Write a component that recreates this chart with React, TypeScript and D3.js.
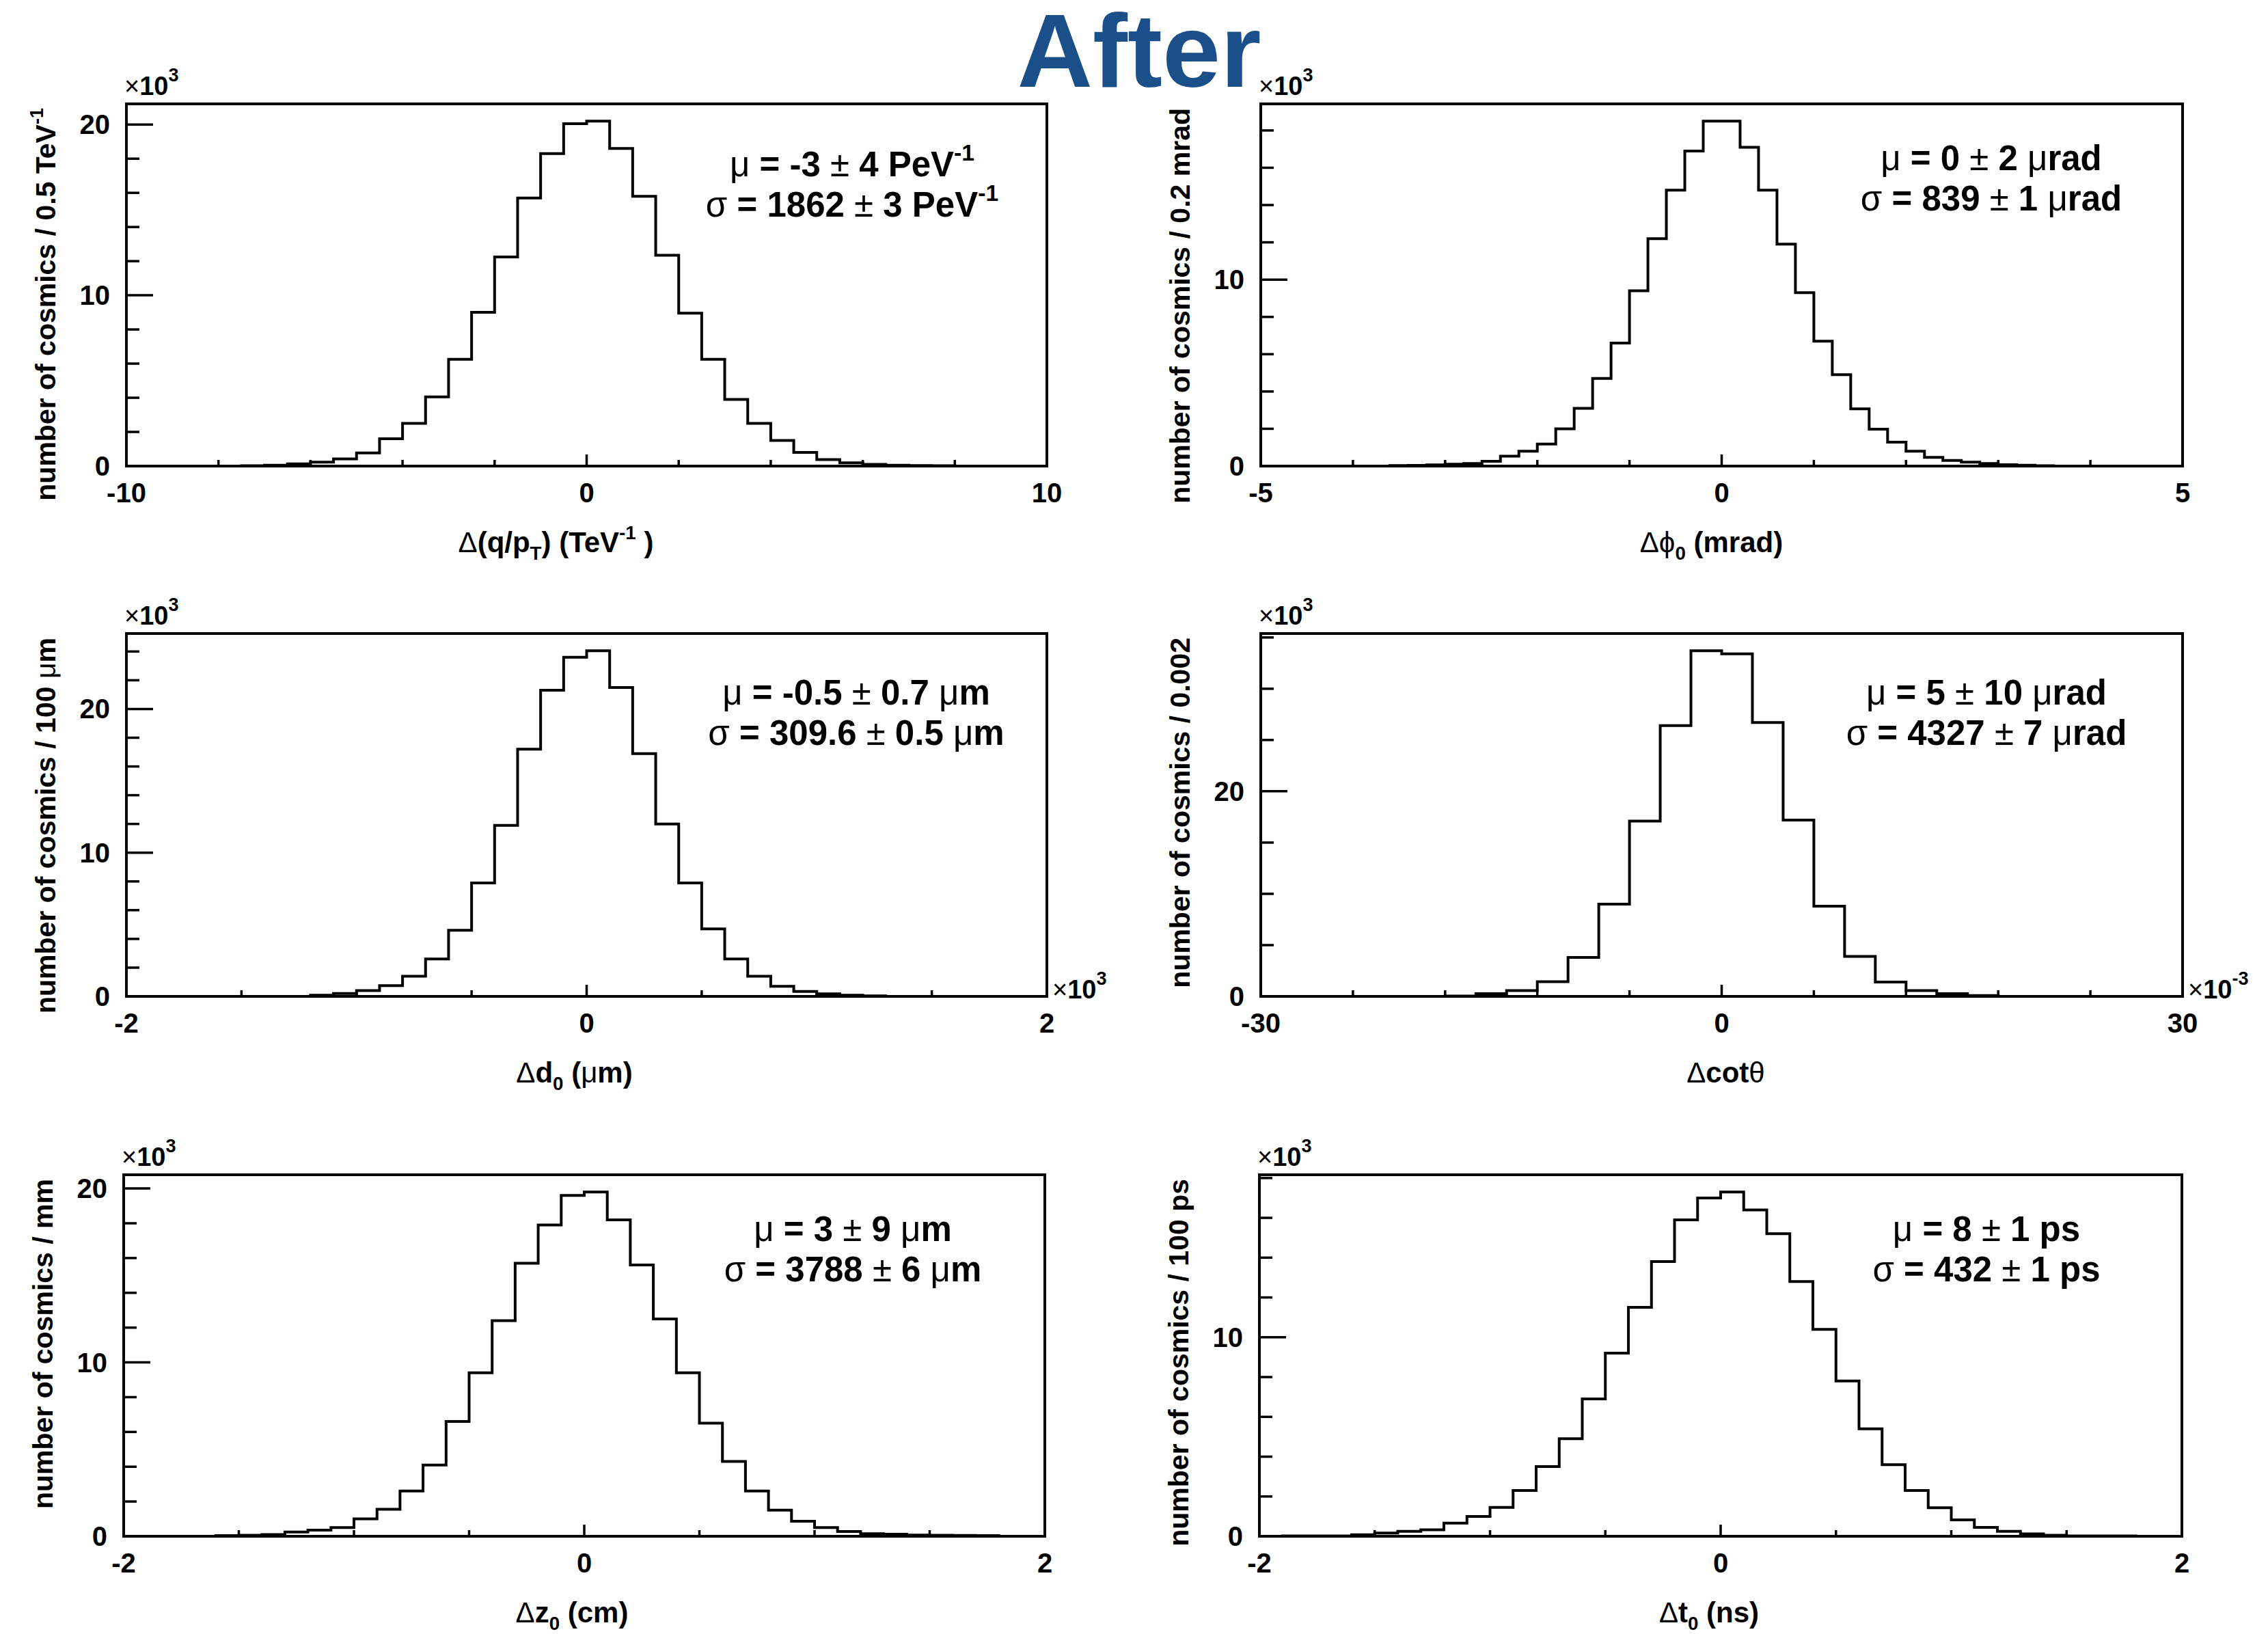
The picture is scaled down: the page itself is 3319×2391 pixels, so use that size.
import React, { useEffect } from 'react';
import * as d3 from 'd3';

const W = 3319;
const H = 2391;
const FONT = '"Liberation Sans", Arial, Helvetica, sans-serif';

// ---------------- data (counts in units of 10^3 cosmics per bin) ----------------
const qptRange = [-10, 10];
const qptCounts = [0, 0, 0, 0, 0, 0.02, 0.05, 0.13, 0.23, 0.42, 0.77, 1.6, 2.5, 4.05, 6.25, 9.0, 12.25, 15.7, 18.3, 20.05,
  20.2, 18.6, 15.8, 12.35, 8.95, 6.25, 3.9, 2.5, 1.5, 0.8, 0.38, 0.19, 0.1, 0.05, 0.03, 0.02, 0, 0, 0, 0];
const qptXTicks = [-10, 0, 10];
const qptYTicks = [0, 10, 20];

const phi0Range = [-5, 5];
const phi0Counts = [0, 0, 0, 0, 0, 0, 0, 0.03, 0.04, 0.06, 0.1, 0.14, 0.26, 0.53, 0.8, 1.18, 2.0, 3.1, 4.7, 6.6, 9.4, 12.2, 14.8, 16.9, 18.5,
  18.5, 17.1, 14.8, 11.9, 9.3, 6.7, 4.9, 3.07, 1.98, 1.28, 0.8, 0.47, 0.3, 0.21, 0.14, 0.07, 0.05, 0.02, 0, 0, 0, 0, 0, 0, 0];
const phi0XTicks = [-5, 0, 5];
const phi0YTicks = [0, 10];

const d0Range = [-2, 2];
const d0Counts = [0, 0, 0, 0, 0, 0, 0, 0, 0.08, 0.2, 0.4, 0.75, 1.4, 2.6, 4.6, 7.9, 11.9, 17.2, 21.3, 23.6,
  24.05, 21.5, 16.9, 12.0, 7.9, 4.7, 2.6, 1.4, 0.7, 0.35, 0.18, 0.08, 0.03, 0, 0, 0, 0, 0, 0, 0];
const d0XTicks = [-2, 0, 2];
const d0YTicks = [0, 10, 20];

const cotRange = [-30, 30];
const cotCounts = [0, 0, 0, 0, 0, 0, 0.03, 0.27, 0.56, 1.43, 3.8, 9.0, 17.1, 26.4, 33.7,
  33.4, 26.7, 17.2, 8.8, 3.9, 1.4, 0.56, 0.27, 0.08, 0, 0, 0, 0, 0, 0];
const cotXTicks = [-30, 0, 30];
const cotYTicks = [0, 20];

const z0Range = [-2, 2];
const z0Counts = [0, 0, 0, 0, 0.04, 0.06, 0.1, 0.25, 0.35, 0.5, 1.0, 1.55, 2.6, 4.1, 6.6, 9.4, 12.4, 15.7, 17.9, 19.6,
  19.8, 18.2, 15.6, 12.5, 9.4, 6.5, 4.3, 2.6, 1.5, 0.86, 0.5, 0.28, 0.15, 0.12, 0.07, 0.06, 0.05, 0.04, 0, 0];
const z0XTicks = [-2, 0, 2];
const z0YTicks = [0, 10, 20];

const t0Range = [-2, 2];
const t0Counts = [0, 0.02, 0.02, 0.02, 0.08, 0.16, 0.25, 0.33, 0.66, 1.0, 1.45, 2.3, 3.5, 4.9, 6.9, 9.2, 11.5, 13.8, 15.9, 17.0,
  17.3, 16.4, 15.2, 12.8, 10.4, 7.8, 5.4, 3.6, 2.3, 1.43, 0.82, 0.45, 0.25, 0.12, 0.05, 0.02, 0.02, 0.02, 0, 0];
const t0XTicks = [-2, 0, 2];
const t0YTicks = [0, 10];

const xTitles = ['Δ(q/p_{T}) (TeV^{-1} )', 'Δϕ_{0} (mrad)', 'Δd_{0} (μm)', 'Δcotθ', 'Δz_{0} (cm)', 'Δt_{0} (ns)'];
const yTitles = [
  'number of cosmics / 0.5 TeV^{-1}',
  'number of cosmics / 0.2 mrad',
  'number of cosmics / 100 μm',
  'number of cosmics / 0.002',
  'number of cosmics / mm',
  'number of cosmics / 100 ps',
];
const muLines = ['μ = -3 ± 4 PeV^{-1}', 'μ = 0 ± 2 μrad', 'μ = -0.5 ± 0.7 μm', 'μ = 5 ± 10 μrad', 'μ = 3 ± 9 μm', 'μ = 8 ± 1 ps'];
const sigmaLines = ['σ = 1862 ± 3 PeV^{-1}', 'σ = 839 ± 1 μrad', 'σ = 309.6 ± 0.5 μm', 'σ = 4327 ± 7 μrad', 'σ = 3788 ± 6 μm', 'σ = 432 ± 1 ps'];
const yExponent = '3';
const xExponents = ['', '', '3', '-3', '', ''];
const title = 'After';

// ---------------- layout ----------------
const layout = [
  { L: 185, R: 1532, T: 152, B: 682, xMinor: 2, yMinor: 2, statX: 1247, statY: 106, xTitleDx: -45 },
  { L: 1845, R: 3194, T: 152, B: 682, xMinor: 1, yMinor: 2, statX: 2914, statY: 97, xTitleDx: -15 },
  { L: 185, R: 1532, T: 927, B: 1458, xMinor: 0.5, yMinor: 2, statX: 1253, statY: 104, xTitleDx: -18 },
  { L: 1845, R: 3194, T: 927, B: 1458, xMinor: 6, yMinor: 5, statX: 2907, statY: 104, xTitleDx: 6 },
  { L: 181, R: 1529, T: 1719, B: 2248, xMinor: 0.5, yMinor: 2, statX: 1248, statY: 97, xTitleDx: -18 },
  { L: 1843, R: 3193, T: 1719, B: 2248, xMinor: 0.5, yMinor: 2, statX: 2907, statY: 97, xTitleDx: -17 },
];

const panelsData = [
  { range: qptRange, counts: qptCounts, xTicks: qptXTicks, yTicks: qptYTicks },
  { range: phi0Range, counts: phi0Counts, xTicks: phi0XTicks, yTicks: phi0YTicks },
  { range: d0Range, counts: d0Counts, xTicks: d0XTicks, yTicks: d0YTicks },
  { range: cotRange, counts: cotCounts, xTicks: cotXTicks, yTicks: cotYTicks },
  { range: z0Range, counts: z0Counts, xTicks: z0XTicks, yTicks: z0YTicks },
  { range: t0Range, counts: t0Counts, xTicks: t0XTicks, yTicks: t0YTicks },
];

const SYM = /[μσ±Δφϕθ]/;

// simple rich-text: ^{..} superscript, _{..} subscript; greek/symbols in normal weight
function rich(s: string, fs: number, subShift = 0.28) {
  const segs: { t: string; lvl: number }[] = [];
  let i = 0;
  let buf = '';
  while (i < s.length) {
    if ((s[i] === '^' || s[i] === '_') && s[i + 1] === '{') {
      if (buf) segs.push({ t: buf, lvl: 0 });
      buf = '';
      const lvl = s[i] === '^' ? 1 : -1;
      const end = s.indexOf('}', i);
      segs.push({ t: s.slice(i + 2, end), lvl });
      i = end + 1;
    } else {
      buf += s[i];
      i++;
    }
  }
  if (buf) segs.push({ t: buf, lvl: 0 });
  const out: React.ReactNode[] = [];
  let cur = 0;
  let k = 0;
  segs.forEach((seg) => {
    const target = seg.lvl === 1 ? -0.45 * fs : seg.lvl === -1 ? subShift * fs : 0;
    const size = seg.lvl === 0 ? fs : fs * 0.66;
    const runs: string[] = [];
    let r = '';
    for (const ch of seg.t) {
      if (r && SYM.test(ch) !== SYM.test(r[r.length - 1])) {
        runs.push(r);
        r = '';
      }
      r += ch;
    }
    if (r) runs.push(r);
    runs.forEach((run) => {
      const dy = target - cur;
      cur = target;
      out.push(
        <tspan key={k++} dy={dy} fontSize={size} fontWeight={SYM.test(run[0]) ? 'normal' : 'bold'}>
          {run}
        </tspan>
      );
    });
  });
  return out;
}

function Panel({ idx }: { idx: number }) {
  const lay = layout[idx];
  const d = panelsData[idx];
  const n = d.counts.length;
  const bw = (d.range[1] - d.range[0]) / n;
  const ymax = 1.05 * (d3.max(d.counts) as number);
  const x = d3.scaleLinear().domain(d.range).range([lay.L, lay.R]);
  const y = d3.scaleLinear().domain([0, ymax]).range([lay.B, lay.T]);

  const p = d3.path();
  p.moveTo(x(d.range[0]), y(0));
  d.counts.forEach((c, i) => {
    p.lineTo(x(d.range[0] + i * bw), y(c));
    p.lineTo(x(d.range[0] + (i + 1) * bw), y(c));
  });
  p.lineTo(x(d.range[1]), y(0));

  const eps = 1e-9;
  const xMinorTicks = d3
    .range(d.range[0], d.range[1] + eps, lay.xMinor)
    .filter((v) => !d.xTicks.some((m) => Math.abs(m - v) < 1e-6));
  const yMinorTicks = d3
    .range(0, ymax, lay.yMinor)
    .filter((v) => !d.yTicks.some((m) => Math.abs(m - v) < 1e-6));

  const yMajLen = 39, yMinLen = 19, xMajLen = 17, xMinLen = 9;
  const fsTick = 40;
  const fsStat = 51;

  return (
    <g>
      <g stroke="#000" strokeWidth={3.5}>
        {d.yTicks.map((v) => (
          <line key={'ym' + v} x1={lay.L} x2={lay.L + yMajLen} y1={y(v)} y2={y(v)} />
        ))}
        {yMinorTicks.map((v) => (
          <line key={'yn' + v} x1={lay.L} x2={lay.L + yMinLen} y1={y(v)} y2={y(v)} />
        ))}
        {d.xTicks.map((v) => (
          <line key={'xm' + v} x1={x(v)} x2={x(v)} y1={lay.B} y2={lay.B - xMajLen} />
        ))}
        {xMinorTicks.map((v) => (
          <line key={'xn' + v} x1={x(v)} x2={x(v)} y1={lay.B} y2={lay.B - xMinLen} />
        ))}
      </g>
      <path d={p.toString()} fill="none" stroke="#000" strokeWidth={4} strokeLinejoin="miter" />
      <rect x={lay.L} y={lay.T} width={lay.R - lay.L} height={lay.B - lay.T} fill="none" stroke="#000" strokeWidth={4} />
      <g fontFamily={FONT} fontWeight="bold" fontSize={fsTick} fill="#000">
        {d.yTicks.map((v) => (
          <text key={'yl' + v} x={lay.L - 24} y={y(v) + 14} textAnchor="end">
            {String(v)}
          </text>
        ))}
        {d.xTicks.map((v) => (
          <text key={'xl' + v} x={x(v)} y={lay.B + 53} textAnchor="middle">
            {String(v)}
          </text>
        ))}
      </g>
      <text x={lay.L - 3} y={lay.T - 13} fontFamily={FONT} fontSize={38} fill="#000">
        <tspan>×</tspan>
        <tspan fontWeight="bold">10</tspan>
        <tspan dy={-20} fontSize={27} fontWeight="bold">
          {yExponent}
        </tspan>
      </text>
      {xExponents[idx] && (
        <text x={lay.R + 8} y={lay.B + 3} fontFamily={FONT} fontSize={38} fill="#000">
          <tspan>×</tspan>
          <tspan fontWeight="bold">10</tspan>
          <tspan dy={-20} fontSize={27} fontWeight="bold">
            {xExponents[idx]}
          </tspan>
        </text>
      )}
      <text
        x={(lay.L + lay.R) / 2 + lay.xTitleDx}
        y={lay.B + 126}
        textAnchor="middle"
        fontFamily={FONT}
        fontSize={42}
        fill="#000"
        style={{ whiteSpace: 'pre' }}
      >
        {rich(xTitles[idx], 42, 0.26)}
      </text>
      <text
        transform={`translate(${lay.L - 104},${lay.T + 6}) rotate(-90)`}
        textAnchor="end"
        fontFamily={FONT}
        fontSize={41}
        fill="#000"
        style={{ whiteSpace: 'pre' }}
      >
        {rich(yTitles[idx], 41)}
      </text>
      <text x={lay.statX} y={lay.T + lay.statY} textAnchor="middle" fontFamily={FONT} fontSize={fsStat} fill="#000" style={{ whiteSpace: 'pre' }}>
        {rich(muLines[idx], fsStat)}
      </text>
      <text x={lay.statX} y={lay.T + lay.statY + 59} textAnchor="middle" fontFamily={FONT} fontSize={fsStat} fill="#000" style={{ whiteSpace: 'pre' }}>
        {rich(sigmaLines[idx], fsStat)}
      </text>
    </g>
  );
}

export default function App() {
  useEffect(() => {
    document.body.style.margin = '0';
    document.body.style.overflow = 'hidden';
  }, []);
  return (
    <svg
      width={W}
      height={H}
      viewBox={`0 0 ${W} ${H}`}
      style={{ position: 'absolute', left: 0, top: 0, background: '#fff' }}
    >
      <rect x={0} y={0} width={W} height={H} fill="#fff" />
      <text x={1667} y={127} textAnchor="middle" fontFamily={FONT} fontWeight="bold" fontSize={153} fill="#1b4f8a">
        {title}
      </text>
      {layout.map((_, i) => (
        <Panel key={i} idx={i} />
      ))}
    </svg>
  );
}
